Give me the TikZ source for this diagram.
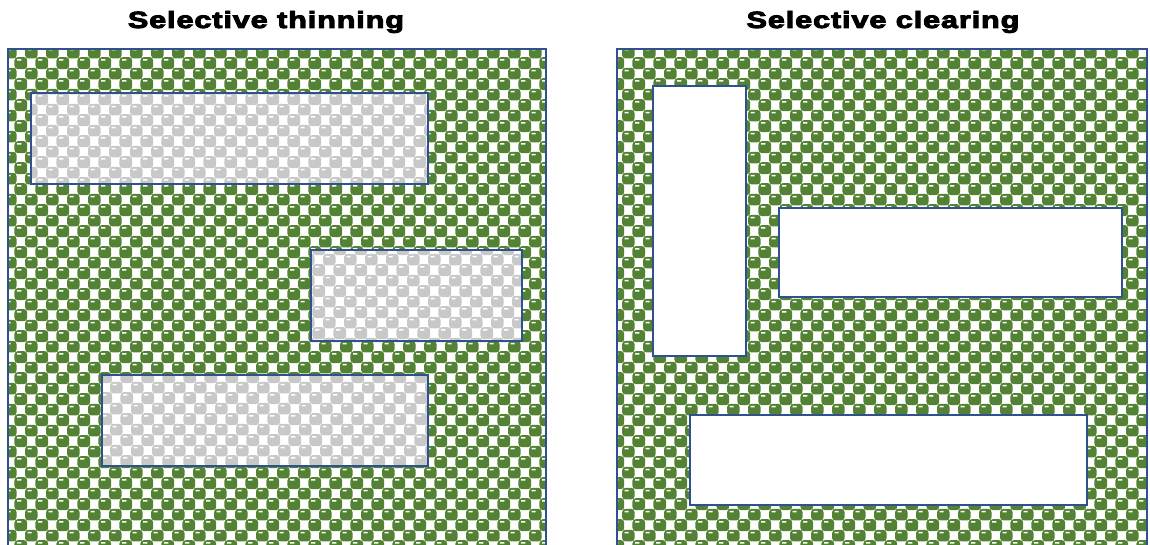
\documentclass[tikz,border=0pt]{standalone}
\usepackage{fontspec}
\usetikzlibrary{patterns}
\setmainfont{Liberation Sans}
\newfontfamily\titlefont{Liberation Sans Bold}[FakeBold=3.5,LetterSpace=3]
\definecolor{patgreen}{RGB}{84,130,53}
\definecolor{patgray}{RGB}{200,200,200}
\definecolor{bdr}{RGB}{47,82,143}
\newcommand{\sphblob}[2]{%
  \pgfpathrectangle{\pgfqpoint{\dimexpr#1pt-6.4pt\relax}{\dimexpr#2pt-6.0pt\relax}}{\pgfqpoint{12.8pt}{12.0pt}}%
}
\newcommand{\sphhi}[2]{%
  \pgfpathrectangle{\pgfqpoint{\dimexpr#1pt-3.8pt\relax}{\dimexpr#2pt+2.4pt\relax}}{\pgfqpoint{4.2pt}{1.5pt}}%
}
\newcommand{\sphtile}[1]{%
  \pgfsetfillcolor{#1}%
  \pgfsetcornersarced{\pgfqpoint{3.3pt}{3.3pt}}%
  \sphblob{0}{0}\sphblob{21.33}{0}\sphblob{0}{21.33}\sphblob{21.33}{21.33}\sphblob{10.665}{10.665}%
  \pgfusepath{fill}%
  \pgfsetcornersarced{\pgfpointorigin}%
  \pgfsetfillcolor{white}%
  \sphhi{0}{0}\sphhi{21.33}{0}\sphhi{0}{21.33}\sphhi{21.33}{21.33}\sphhi{10.665}{10.665}%
  \pgfusepath{fill}%
}
\pgfdeclarepatterninherentlycolored{sphgreen}{\pgfpointorigin}{\pgfqpoint{21.33pt}{21.33pt}}{\pgfqpoint{21.33pt}{21.33pt}}{\sphtile{patgreen}}
\pgfdeclarepatterninherentlycolored{sphgray}{\pgfpointorigin}{\pgfqpoint{21.33pt}{21.33pt}}{\pgfqpoint{21.33pt}{21.33pt}}{\sphtile{patgray}}
\tikzset{
  forest/.style={preaction={fill=white}, pattern=sphgreen, draw=bdr, line width=2.5pt},
  thinned/.style={preaction={fill=white}, pattern=sphgray, draw=bdr, line width=2.5pt},
  cleared/.style={fill=white, draw=bdr, line width=2.5pt},
  title/.style={font=\titlefont\fontsize{23.5}{28}\selectfont, anchor=base, inner sep=0pt}
}
\begin{document}
\begin{tikzpicture}[x=1pt,y=-1pt]
\useasboundingbox (0,0) rectangle (1150,545);
\clip (0,0) rectangle (1150,545);
\fill[white] (0,0) rectangle (1150,545);
% titles
\node[title] (t1) at (266,28) {\scalebox{1.3}[1]{Selective thinning}};
\node[title] (t2) at (883,28) {\scalebox{1.3}[1]{Selective clearing}};
% left panel
\path[forest] (8,49) rectangle (546,560);
\path[thinned] (31,93) rectangle (428,184);
\path[thinned] (311,250) rectangle (522,341);
\path[thinned] (102,375) rectangle (428,466);
% right panel
\path[forest] (617,49) rectangle (1147,560);
\path[cleared] (653,86) rectangle (746,356);
\path[cleared] (779,208) rectangle (1122,297);
\path[cleared] (690,415) rectangle (1087,505);
\end{tikzpicture}
\end{document}
